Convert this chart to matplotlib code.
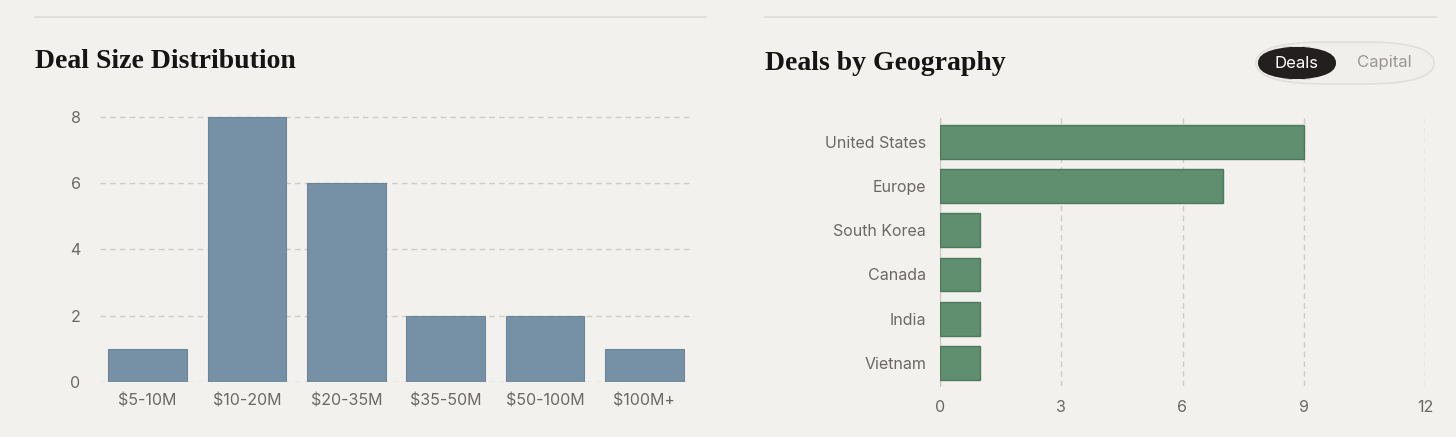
import matplotlib.pyplot as plt
from matplotlib.patches import FancyBboxPatch
from matplotlib.lines import Line2D

size_labels = ['$5-10M', '$10-20M', '$20-35M', '$35-50M', '$50-100M', '$100M+']
size_counts = [1, 8, 6, 2, 2, 1]

geo_labels = ['United States', 'Europe', 'South Korea', 'Canada', 'India', 'Vietnam']
geo_counts = [9, 7, 1, 1, 1, 1]

bg = '#f3f1ee'
W, H = 1456, 437
fig = plt.figure(figsize=(W / 100, H / 100), dpi=100, facecolor=bg)
plt.rcParams['font.family'] = ['Inter', 'DejaVu Sans']


def box(l, t, r, b):
    return [l / W, 1 - b / H, (r - l) / W, (b - t) / H]


# separators
fig.add_artist(Line2D([35 / W, 706 / W], [1 - 17 / H] * 2, color='#dddad6', lw=1.2))
fig.add_artist(Line2D([765 / W, 1436 / W], [1 - 17 / H] * 2, color='#dddad6', lw=1.2))

fig.text(35 / W, 1 - 62 / H, 'Deal Size Distribution', family='Liberation Serif',
         weight='bold', fontsize=20, va='center', color='#151515')
fig.text(765 / W, 1 - 64 / H, 'Deals by Geography', family='Liberation Serif',
         weight='bold', fontsize=20, va='center', color='#151515')

# toggle
fig.add_artist(FancyBboxPatch((1256 / W, 1 - 84 / H), 178 / W, 42 / H,
                              boxstyle='round,pad=0,rounding_size=0.048',
                              transform=fig.transFigure, fc='#f1efec', ec='#e2dfdb', lw=1.2))
fig.add_artist(FancyBboxPatch((1258 / W, 1 - 80 / H), 78 / W, 34 / H,
                              boxstyle='round,pad=0,rounding_size=0.038',
                              transform=fig.transFigure, fc='#221f1e', ec='none'))
fig.text(1297 / W, 1 - 63 / H, 'Deals', color='white', fontsize=12, ha='center', va='center')
fig.text(1384 / W, 1 - 63 / H, 'Capital', color='#9a9794', fontsize=12, ha='center', va='center')

# left chart
ax = fig.add_axes(box(100, 105, 692, 382))
ax.set_facecolor(bg)
x = range(len(size_labels))
ax.bar(x, size_counts, width=0.79, color='#7690a5', edgecolor='#6c8498', lw=0.8, zorder=3)
ax.set_xlim(-0.48, 5.48)
ax.set_ylim(0, 8.36)
ax.set_yticks([0, 2, 4, 6, 8])
ax.set_xticks(list(x))
ax.set_xticklabels(size_labels)
ax.yaxis.grid(True, ls=(0, (4, 3)), color='#cfccc8', lw=1)
for s in ax.spines.values():
    s.set_visible(False)
ax.tick_params(length=0, colors='#6b6865', labelsize=11.5, pad=8)
ax.tick_params(axis='y', pad=14)

# right chart
ax2 = fig.add_axes(box(940, 118, 1425, 386))
ax2.set_facecolor(bg)
y = range(len(geo_labels))
ax2.barh(y, geo_counts, height=0.77, color='#5f8f6f', edgecolor='#4d7a5c', lw=1, zorder=3)
ax2.set_xlim(0, 12)
ax2.set_ylim(5.53, -0.55)
ax2.set_xticks([0, 3, 6, 9, 12])
ax2.set_yticks(list(y))
ax2.set_yticklabels(geo_labels)
ax2.xaxis.grid(True, ls=(0, (4, 3)), color='#cfccc8', lw=1)
for s in ax2.spines.values():
    s.set_visible(False)
ax2.spines['left'].set_visible(True)
ax2.spines['left'].set_color('#c9c6c2')
ax2.tick_params(length=0, colors='#6b6865', labelsize=11.5, pad=10)

fig.savefig('out.png', dpi=100, facecolor=bg)
